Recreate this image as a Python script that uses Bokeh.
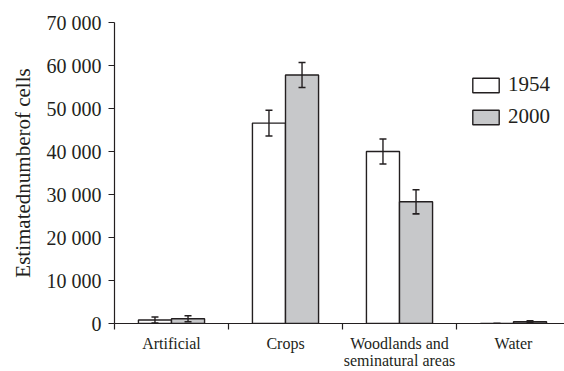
from bokeh.plotting import figure
from bokeh.models import (Range1d, FixedTicker, LinearAxis, Whisker, TeeHead,
                          ColumnDataSource, Legend, LegendItem)
from bokeh.embed import file_html
from bokeh.resources import INLINE

# ---- data ----
categories = ["Artificial", "Crops", "Woodlands and\nseminatural areas", "Water"]
series = ["1954", "2000"]
v1954 = [800, 46600, 40000, 0]
e1954 = [700, 3000, 2900, 0]
v2000 = [1100, 57800, 28300, 400]
e2000 = [700, 2900, 2800, 200]
y_ticks = [0, 10000, 20000, 30000, 40000, 50000, 60000, 70000]
y_tick_labels = ["0", "10 000", "20 000", "30 000", "40 000", "50 000", "60 000", "70 000"]

FONT = "Liberation Serif"
INK = "#231f20"

W, H = 564, 371
LEFT, TOP = 114, 22
frame_w = W - LEFT
cat_px = 114.0

p = figure(width=W, height=H, output_backend="svg", toolbar_location=None,
           x_range=Range1d(0, frame_w / cat_px), y_range=Range1d(0, 70000),
           x_axis_type=None, y_axis_type=None,
           min_border_left=LEFT, min_border_top=TOP, min_border_right=0,
           min_border_bottom=H - TOP - 302)
p.outline_line_color = None
p.xgrid.visible = False
p.ygrid.visible = False
p.background_fill_color = "white"
p.border_fill_color = "white"

bar_w = 0.29
centers = [i + 0.5 for i in range(len(categories))]
x1 = [c - bar_w / 2 for c in centers]
x2 = [c + bar_w / 2 for c in centers]

s1 = ColumnDataSource(dict(x=x1, top=v1954, upper=[v + e for v, e in zip(v1954, e1954)],
                           lower=[v - e for v, e in zip(v1954, e1954)]))
s2 = ColumnDataSource(dict(x=x2, top=v2000, upper=[v + e for v, e in zip(v2000, e2000)],
                           lower=[v - e for v, e in zip(v2000, e2000)]))

r1 = p.vbar(x="x", top="top", width=bar_w, source=s1, fill_color="white",
            line_color=INK, line_width=1.4)
r2 = p.vbar(x="x", top="top", width=bar_w, source=s2, fill_color="#c7c8ca",
            line_color=INK, line_width=1.4)

for s in (s1, s2):
    w = Whisker(source=s, base="x", upper="upper", lower="lower", dimension="height",
                line_color=INK, line_width=1.4, level="overlay",
                upper_head=TeeHead(size=7, line_color=INK, line_width=1.6),
                lower_head=TeeHead(size=7, line_color=INK, line_width=1.6))
    p.add_layout(w)

# y axis
ya = LinearAxis(ticker=FixedTicker(ticks=y_ticks),
                major_label_overrides={t: l for t, l in zip(y_ticks, y_tick_labels)})
ya.axis_label = "Estimatednumberof cells"
ya.axis_label_text_font = FONT
ya.axis_label_text_font_size = "21px"
ya.axis_label_text_font_style = "normal"
ya.axis_label_text_color = INK
ya.axis_label_standoff = 9
ya.major_label_text_font = FONT
ya.major_label_text_font_size = "20px"
ya.major_label_text_color = INK
ya.major_label_standoff = 7
ya.major_tick_out = 6
ya.major_tick_in = 0
ya.minor_tick_out = 0
ya.minor_tick_in = 0
ya.axis_line_color = INK
ya.axis_line_width = 1.2
ya.major_tick_line_color = INK
ya.major_tick_line_width = 1.2
p.add_layout(ya, "left")

# x axis
xa = LinearAxis(ticker=FixedTicker(ticks=centers, minor_ticks=[0, 1, 2, 3, 4]),
                major_label_overrides={c: l for c, l in zip(centers, categories)})
xa.major_label_text_font = FONT
xa.major_label_text_font_size = "16px"
xa.major_label_text_color = INK
xa.major_label_text_line_height = 1.0
xa.major_label_standoff = 5
xa.axis_label_standoff = 0
xa.major_tick_out = 0
xa.major_tick_in = 0
xa.minor_tick_out = 6
xa.minor_tick_in = 0
xa.minor_tick_line_color = INK
xa.minor_tick_line_width = 1.2
xa.axis_line_color = INK
xa.axis_line_width = 1.2
p.add_layout(xa, "below")

legend = Legend(items=[LegendItem(label=series[0], renderers=[r1]),
                       LegendItem(label=series[1], renderers=[r2])],
                location=(355, 194), orientation="vertical",
                glyph_width=33, glyph_height=18, label_height=18,
                label_standoff=6, spacing=7, padding=0, margin=0,
                border_line_color=None, background_fill_alpha=0,
                label_text_font=FONT, label_text_font_size="21px",
                label_text_color=INK)
p.add_layout(legend)

open("out.html", "w").write(file_html(p, INLINE))
